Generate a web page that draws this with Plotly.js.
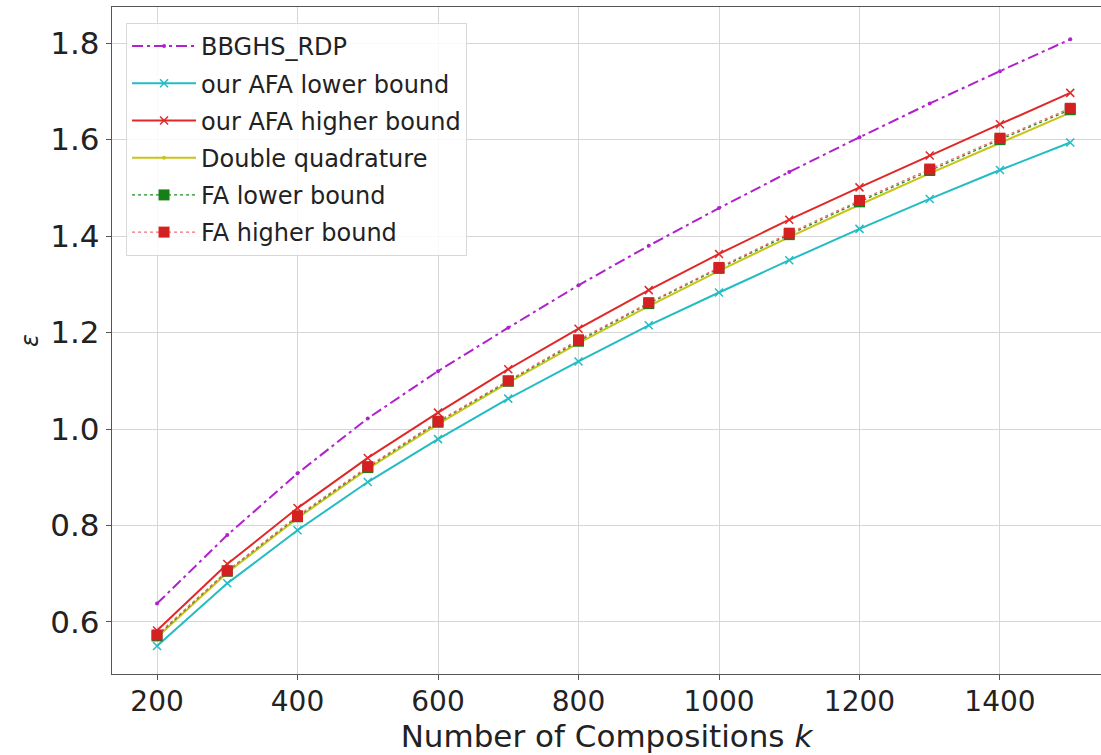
<!DOCTYPE html>
<html>
<head>
<meta charset="utf-8">
<script src="https://cdn.plot.ly/plotly-3.0.1.min.js"></script>
<style>html,body{margin:0;padding:0;background:#fff;}#chart{width:1101px;height:755px;}</style>
</head>
<body>
<div id="chart"></div>
<script>
const k = [200, 300, 400, 500, 600, 700, 800, 900, 1000, 1100, 1200, 1300, 1400, 1500];
const bbghsRdp   = [0.638, 0.780, 0.908, 1.022, 1.120, 1.210, 1.298, 1.380, 1.458, 1.533, 1.605, 1.675, 1.742, 1.808];
const afaLower   = [0.550, 0.680, 0.790, 0.890, 0.979, 1.063, 1.140, 1.215, 1.283, 1.350, 1.415, 1.477, 1.537, 1.594];
const afaHigher  = [0.582, 0.720, 0.836, 0.940, 1.034, 1.124, 1.208, 1.288, 1.363, 1.434, 1.501, 1.567, 1.632, 1.697];
const doubleQuad = [0.568, 0.702, 0.815, 0.917, 1.010, 1.096, 1.178, 1.255, 1.328, 1.398, 1.465, 1.530, 1.593, 1.656];
const faLower    = [0.571, 0.705, 0.818, 0.920, 1.014, 1.099, 1.182, 1.260, 1.333, 1.403, 1.471, 1.536, 1.600, 1.662];
const faHigher   = [0.573, 0.706, 0.820, 0.922, 1.016, 1.100, 1.185, 1.262, 1.335, 1.406, 1.474, 1.539, 1.603, 1.665];
const xTicks = [200, 400, 600, 800, 1000, 1200, 1400];
const yTicks = [0.6, 0.8, 1.0, 1.2, 1.4, 1.6, 1.8];

const traces = [
  {x: k, y: bbghsRdp, name: 'BBGHS_RDP', mode: 'lines+markers', legendgroup: 'a',
   line: {color: '#b020cc', width: 2, dash: '11px,4px,3px,4px'},
   marker: {symbol: 'circle', size: 4, color: '#b020cc'}},
  {x: k, y: afaLower, name: 'our AFA lower bound', mode: 'lines+markers', legendgroup: 'b',
   line: {color: '#22bcc4', width: 2},
   marker: {symbol: 'x-thin', size: 8, line: {color: '#22bcc4', width: 1.5}}},
  {x: k, y: afaHigher, name: 'our AFA higher bound', mode: 'lines+markers', legendgroup: 'c',
   line: {color: '#e02828', width: 2},
   marker: {symbol: 'x-thin', size: 8, line: {color: '#e02828', width: 1.5}}},
  {x: k, y: doubleQuad, name: 'Double quadrature', mode: 'lines+markers', legendgroup: 'd',
   line: {color: '#c8c418', width: 2},
   marker: {symbol: 'circle', size: 4, color: '#c8c418'}},
  {x: k, y: faLower, name: 'FA lower bound', mode: 'lines+markers', legendgroup: 'e',
   line: {color: '#1e8a1e', width: 1.3, dash: 'dot'},
   marker: {symbol: 'square', size: 11, color: '#168016'}},
  {x: k, y: faHigher, name: 'FA higher bound', mode: 'lines+markers', legendgroup: 'f',
   line: {color: '#f07070', width: 1.3, dash: 'dot'},
   marker: {symbol: 'square', size: 11, color: '#d42020'}}
];

const layout = {
  width: 1101, height: 755,
  margin: {l: 112, r: 0, t: 7, b: 81},
  paper_bgcolor: '#ffffff', plot_bgcolor: '#ffffff',
  showlegend: true,
  legend: {
    x: 0.0142, y: 0.976, xanchor: 'left', yanchor: 'top',
    bgcolor: 'rgba(255,255,255,0.85)', bordercolor: '#d8d8d8', borderwidth: 1,
    font: {family: 'DejaVu Sans', size: 24, color: '#222'},
    tracegroupgap: 3, itemwidth: 64
  },
  xaxis: {
    range: [135.9, 1543.8], tickvals: xTicks, ticktext: xTicks.map(String),
    showgrid: true, gridcolor: '#d6d6d6', gridwidth: 1,
    showline: true, linecolor: '#555', linewidth: 1.2, mirror: true,
    ticks: 'outside', ticklen: 5, tickcolor: '#555', zeroline: false,
    ticklabelstandoff: -3,
    tickfont: {family: 'DejaVu Sans', size: 28, color: '#222'},
    title: {text: 'Number of Compositions <i>k</i>', standoff: 2,
            font: {family: 'DejaVu Sans', size: 31, color: '#222'}}
  },
  yaxis: {
    range: [0.492, 1.875], tickvals: yTicks, ticktext: yTicks.map(v => v.toFixed(1)),
    showgrid: true, gridcolor: '#d6d6d6', gridwidth: 1,
    showline: true, linecolor: '#555', linewidth: 1.2, mirror: true,
    ticks: 'outside', ticklen: 5, tickcolor: '#555', zeroline: false,
    tickfont: {family: 'DejaVu Sans', size: 31, color: '#222'},
    title: {text: '<i>ε</i>', standoff: 4,
            font: {family: 'DejaVu Sans', size: 24, color: '#222'}}
  }
};

Plotly.newPlot('chart', traces, layout, {displayModeBar: false, staticPlot: true});
</script>
</body>
</html>
